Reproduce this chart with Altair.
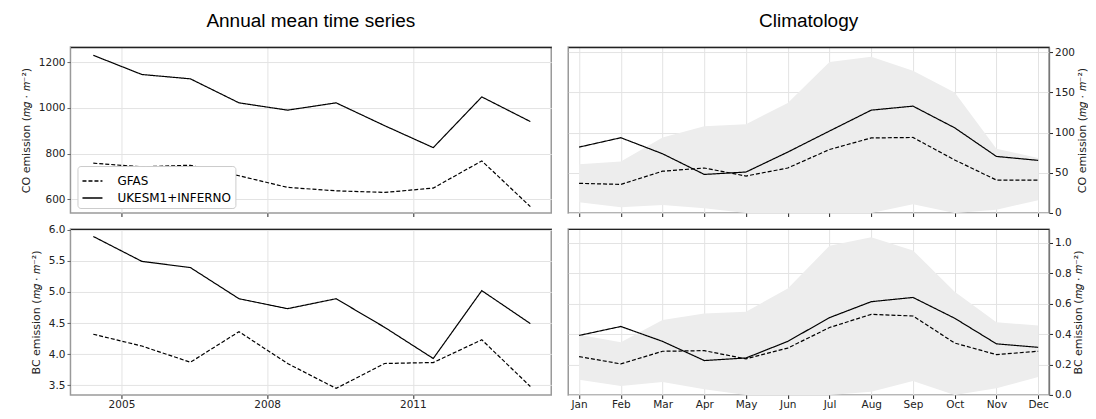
import altair as alt
import pandas as pd

# ---------------- data ----------------
years = list(range(2004, 2014))
co_ukesm_annual = [1230, 1146, 1127, 1022, 990, 1022, 922, 826, 1048, 940]
co_gfas_annual = [758, 742, 749, 703, 652, 637, 630, 649, 768, 568]
bc_ukesm_annual = [5.89, 5.49, 5.39, 4.89, 4.73, 4.89, 4.43, 3.93, 5.02, 4.49]
bc_gfas_annual = [4.32, 4.13, 3.87, 4.36, 3.85, 3.45, 3.85, 3.865, 4.23, 3.48]

months = ["Jan", "Feb", "Mar", "Apr", "May", "Jun", "Jul", "Aug", "Sep", "Oct", "Nov", "Dec"]
co_ukesm_clim = [82, 93.7, 73.7, 48, 51, 75.8, 102, 128, 133, 106, 70.4, 65.5]
co_gfas_clim = [36.9, 35.6, 52, 56, 46, 56, 79, 93.4, 94, 66, 41, 41]
co_band_hi = [60.6, 64, 94, 108, 110.6, 137, 188, 194.5, 177, 150, 80, 68.4]
co_band_lo = [13.5, 7, 10, 6, 0, 0, 0, 0, 11, 0, 4, 16]
bc_ukesm_clim = [0.391, 0.45, 0.352, 0.226, 0.243, 0.352, 0.508, 0.613, 0.641, 0.504, 0.336, 0.313]
bc_gfas_clim = [0.252, 0.204, 0.287, 0.291, 0.237, 0.308, 0.443, 0.53, 0.519, 0.341, 0.265, 0.287]
bc_band_hi = [0.395, 0.347, 0.493, 0.536, 0.547, 0.7, 0.98, 1.036, 0.95, 0.678, 0.478, 0.456]
bc_band_lo = [0.10, 0.058, 0.085, 0.037, 0, 0, 0, 0.02, 0.091, 0, 0.043, 0.117]

series_names = ["GFAS", "UKESM1+INFERNO"]
title_left = "Annual mean time series"
title_right = "Climatology"
co_title = "CO emission (𝑚𝑔 · 𝑚⁻²)"
bc_title = "BC emission (𝑚𝑔 · 𝑚⁻²)"


def long_annual(gfas, ukesm):
    return pd.DataFrame({
        "year": years * 2,
        "series": [series_names[0]] * len(years) + [series_names[1]] * len(years),
        "value": gfas + ukesm,
    })


def long_clim(gfas, ukesm):
    return pd.DataFrame({
        "month": months * 2,
        "series": [series_names[0]] * 12 + [series_names[1]] * 12,
        "value": gfas + ukesm,
    })


def band_df(lo, hi):
    return pd.DataFrame({"month": months, "lo": lo, "hi": hi})


# ---------------- style ----------------
W, H = 481, 166
DARK = "#222222"
FRAME = "#9a9a9a"
dash_scale = alt.Scale(domain=series_names, range=[[4, 2], [1, 0]])

legend = alt.Legend(
    title=None, orient="none", legendX=7, legendY=119, direction="vertical",
    symbolType="stroke", symbolStrokeColor="black", symbolStrokeWidth=1.3,
    symbolSize=400, labelFont="DejaVu Sans", labelFontSize=12, labelColor="black",
    labelOffset=14, rowPadding=-2, fillColor="white", strokeColor="#cccccc",
    padding=4, cornerRadius=3,
)


def title_params(text):
    return alt.TitleParams(text, font="Liberation Sans", fontSize=19, fontWeight="normal",
                           color="black", anchor="middle", offset=16)


def annual_panel(df, ydom, yvals, yfmt, ytitle, show_labels, title=None, with_legend=False):
    xscale = alt.Scale(domain=[2003.95, 2013.85], nice=False, zero=False)
    xaxis = alt.Axis(values=[2005, 2008, 2011], format="d", labels=show_labels, title=None,
                     domain=False, ticks=True, tickSize=3.5, tickColor=DARK, grid=True, labelPadding=1.5)
    yaxis = alt.Axis(values=yvals, format=yfmt, title=ytitle, ticks=True, tickSize=3.5,
                     tickColor="#666666", domain=False, labelPadding=2, titlePadding=7)
    base = alt.Chart(df).transform_calculate(xpos="datum.year + 0.42")
    line = base.mark_line(color="black", strokeWidth=1.2).encode(
        x=alt.X("xpos:Q", scale=xscale, axis=xaxis),
        y=alt.Y("value:Q", scale=alt.Scale(domain=ydom, nice=False, zero=False), axis=yaxis),
        strokeDash=alt.StrokeDash("series:N", scale=dash_scale, legend=legend if with_legend else None),
    )
    top = base.mark_point(opacity=0).encode(
        x=alt.X("xpos:Q", axis=alt.Axis(orient="top", labels=False, ticks=False, grid=False,
                                         title=None, domain=True, domainColor=DARK, domainWidth=1.2))
    )
    ch = alt.layer(line, top).resolve_axis(x="independent").properties(width=W, height=H)
    if title:
        ch = ch.properties(title=title_params(title))
    return ch


def clim_panel(df_lines, df_band, ydom, yvals, yfmt, ytitle, show_labels, title=None):
    xscale = alt.Scale(type="point", padding=0.26)
    xaxis = alt.Axis(labels=show_labels, labelAngle=0, title=None, domain=False, ticks=True,
                     tickSize=3.5, tickColor=DARK, grid=True, labelPadding=1.5)
    yscale = alt.Scale(domain=ydom, nice=False, zero=False)
    yaxis = alt.Axis(orient="right", values=yvals, format=yfmt, title=ytitle, titleAngle=270,
                     titleBaseline="top", ticks=True, tickSize=3.5, tickColor=DARK, domain=True,
                     domainColor="#777777", domainWidth=1.3, labelPadding=2, titlePadding=1.5)
    band = alt.Chart(df_band).mark_area(color="#ededed").encode(
        x=alt.X("month:O", sort=months, scale=xscale, axis=None),
        y=alt.Y("lo:Q", scale=yscale, axis=yaxis, title=ytitle),
        y2="hi:Q",
    )
    line = alt.Chart(df_lines).mark_line(color="black", strokeWidth=1.2).encode(
        x=alt.X("month:O", sort=months, scale=xscale, axis=xaxis),
        y=alt.Y("value:Q", scale=yscale, axis=yaxis, title=ytitle),
        strokeDash=alt.StrokeDash("series:N", scale=dash_scale, legend=None),
    )
    top = alt.Chart(df_band).mark_point(opacity=0).encode(
        x=alt.X("month:O", sort=months, scale=xscale,
                axis=alt.Axis(orient="top", labels=False, ticks=False, grid=False, title=None,
                              domain=True, domainColor=DARK, domainWidth=1.2))
    )
    ch = alt.layer(band, line, top).resolve_axis(x="independent").properties(width=W, height=H)
    if title:
        ch = ch.properties(title=title_params(title))
    return ch


tl = annual_panel(long_annual(co_gfas_annual, co_ukesm_annual), [540, 1266],
                  [600, 800, 1000, 1200], "d", co_title, False, title_left, True)
tr = clim_panel(long_clim(co_gfas_clim, co_ukesm_clim), band_df(co_band_lo, co_band_hi),
                [0, 206.5], [0, 50, 100, 150, 200], "d", co_title, False, title_right)
bl = annual_panel(long_annual(bc_gfas_annual, bc_ukesm_annual), [3.345, 6.01],
                  [3.5, 4.0, 4.5, 5.0, 5.5, 6.0], ".1f", bc_title, True)
br = clim_panel(long_clim(bc_gfas_clim, bc_ukesm_clim), band_df(bc_band_lo, bc_band_hi),
                [0, 1.091], [0.0, 0.2, 0.4, 0.6, 0.8, 1.0], ".1f", bc_title, True)

chart = alt.concat(
    tl, tr, bl, br, columns=2, spacing={"row": 16, "column": 17}, bounds="flush"
).resolve_legend(strokeDash="independent").properties(
    padding={"left": 11.5, "top": 3, "right": 0, "bottom": 0}
).configure_view(
    stroke=FRAME, strokeWidth=1.5
).configure_axis(
    labelFont="DejaVu Sans", labelFontSize=10.5, labelColor=DARK,
    titleFont="DejaVu Sans", titleFontSize=11, titleColor=DARK, titleFontWeight="normal",
    gridColor="#e3e3e3", gridWidth=1,
)

chart.save("out.html", embed_options={"renderer": "svg", "actions": False})
